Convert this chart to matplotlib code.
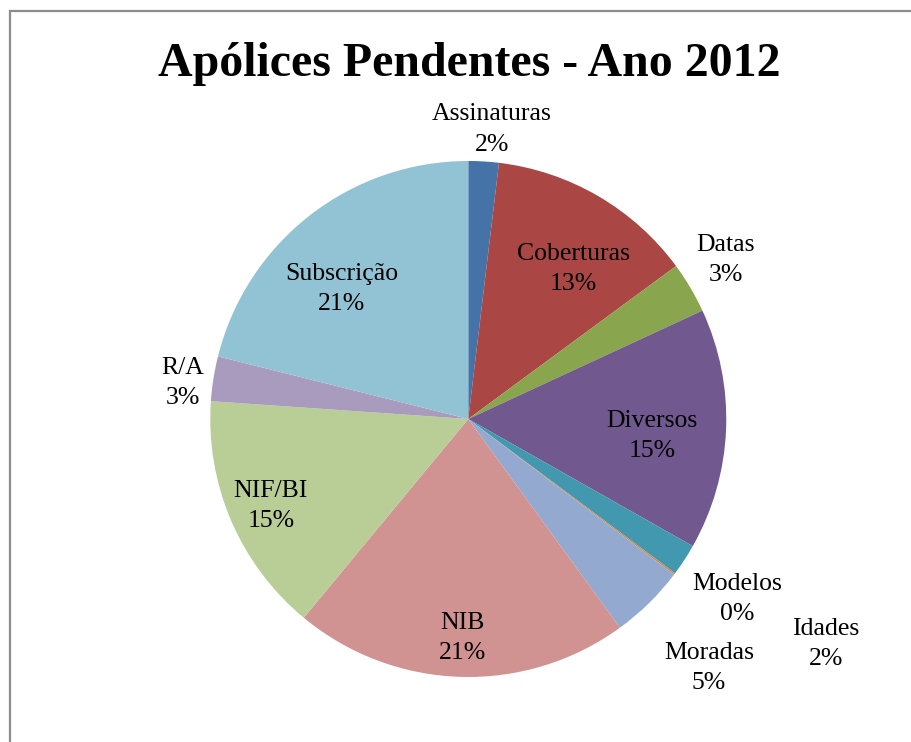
#!/usr/bin/env python3
# -*- coding: utf-8 -*-
"""Gráfico circular: Apólices Pendentes - Ano 2012"""

import matplotlib
matplotlib.use("Agg")
import matplotlib.pyplot as plt
from matplotlib.patches import Rectangle

# dados (percentagem de cada motivo)
categorias = ['Assinaturas', 'Coberturas', 'Datas', 'Diversos', 'Idades',
              'Modelos', 'Moradas', 'NIB', 'NIF/BI', 'R/A', 'Subscrição']
valores = [1.9, 13.0, 3.2, 15.1, 2.0, 0.1, 4.7, 21.0, 15.1, 2.8, 21.1]

cores = ['#4572A7', '#AA4643', '#89A54E', '#71588F', '#4198AF', '#DB843D',
         '#93A9CF', '#D19392', '#B9CD96', '#A99BBD', '#92C3D4']

# posição dos rótulos (em unidades do raio), como no Excel
pos_rotulos = [(0.092, 1.122), (0.406, 0.581), (0.999, 0.616), (0.712, -0.066),
               (1.386, -0.872), (1.041, -0.698), (0.933, -0.965), (-0.024, -0.849),
               (-0.765, -0.337), (-1.106, 0.139), (-0.490, 0.504)]

plt.rcParams['font.family'] = ['Liberation Serif', 'DejaVu Serif']

fig = plt.figure(figsize=(9.11, 7.42), dpi=100)
ax = fig.add_axes([0, 0, 1, 1])

ax.pie(valores, colors=cores, startangle=90, counterclock=False, radius=1.0,
       wedgeprops={'linewidth': 0})

total = sum(valores)
for nome, v, (x, y) in zip(categorias, valores, pos_rotulos):
    ax.text(x, y, f"{nome}\n{v / total * 100:.0f}%", ha='center', va='center',
            fontsize=18.5, color='black', linespacing=1.5)

ax.set_xlim(-1.815, 1.716)
ax.set_ylim(-1.252, 1.624)
ax.set_aspect('auto')
ax.axis('off')

fig.text(469 / 911, 1 - 64 / 742, 'Apólices Pendentes - Ano 2012',
         ha='center', va='center', fontsize=34.5, fontweight='bold')

# moldura da área do gráfico
fig.patches.append(Rectangle((10 / 911, -0.1), 1.2, 1.1 - 11 / 742,
                             transform=fig.transFigure, fill=False,
                             edgecolor='#8c8c8c', linewidth=1.6))

fig.savefig('out.png', dpi=100)
plt.close(fig)
